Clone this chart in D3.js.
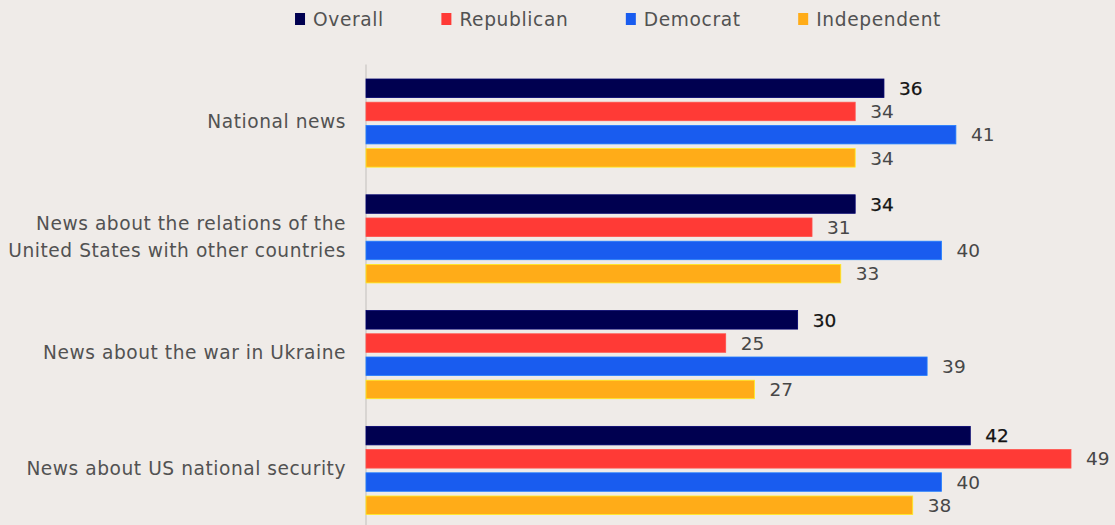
<!DOCTYPE html>
<html>
<head>
<meta charset="utf-8">
<script src="https://cdn.jsdelivr.net/npm/d3@7"></script>
<style>
  html, body { margin: 0; padding: 0; background: #efebe8; }
  svg { display: block; }
  text { font-family: "DejaVu Sans", sans-serif; }
</style>
</head>
<body>
<svg id="chart" width="1115" height="525"></svg>
<script>
// Topics (one group of bars each); multi-line labels split on "\n"
const categories = [
  "National news",
  "News about the relations of the\nUnited States with other countries",
  "News about the war in Ukraine",
  "News about US national security"
];

const seriesNames = ["Overall", "Republican", "Democrat", "Independent"];
const seriesColors = ["#000050", "#ff3a36", "#195cef", "#ffac18"];

// Percent per topic, in category order
const overall     = [36, 34, 30, 42];
const republican  = [34, 31, 25, 49];
const democrat    = [41, 40, 39, 40];
const independent = [34, 33, 27, 38];

const seriesValues = [overall, republican, democrat, independent];

const W = 1115, H = 525;
const svg = d3.select("#chart");

svg.append("rect").attr("width", W).attr("height", H).attr("fill", "#efebe8");

const x = d3.scaleLinear().domain([0, 49]).range([366, 1071]);

const y0 = d3.scaleBand()
  .domain(categories)
  .range([79, 514.5])
  .paddingInner(0.239)
  .paddingOuter(0)
  .align(0);

const y1 = d3.scaleBand()
  .domain(seriesNames)
  .range([0, y0.bandwidth()])
  .paddingInner(0.2026)
  .paddingOuter(0);

const color = d3.scaleOrdinal().domain(seriesNames).range(seriesColors);

// Category axis: a plain vertical rule at zero
const axisScale = d3.scaleLinear().domain([0, 1]).range([64, H]);
const axisG = svg.append("g")
  .attr("transform", `translate(${x(0) - 0.5},0)`)
  .call(d3.axisLeft(axisScale).tickValues([]).tickSizeOuter(0));
axisG.select(".domain").attr("stroke", "#c9c6c3").attr("stroke-width", 1.2);

// Rows of data
const rows = categories.map((c, i) => ({
  category: c,
  values: seriesNames.map((s, j) => ({ series: s, value: seriesValues[j][i] }))
}));

const groups = svg.append("g").selectAll("g")
  .data(rows)
  .join("g")
  .attr("transform", d => `translate(0,${y0(d.category)})`);

groups.selectAll("rect")
  .data(d => d.values)
  .join("rect")
  .attr("x", x(0))
  .attr("y", d => y1(d.series))
  .attr("width", d => x(d.value) - x(0))
  .attr("height", y1.bandwidth())
  .attr("fill", d => color(d.series))
  .attr("stroke", d => d3.color(color(d.series)).brighter(0.9))
  .attr("stroke-width", 0.8);

groups.selectAll("text.val")
  .data(d => d.values)
  .join("text")
  .attr("class", "val")
  .attr("x", d => x(d.value) + 15)
  .attr("y", d => y1(d.series) + y1.bandwidth() / 2)
  .attr("dy", "0.36em")
  .attr("font-size", 18.5)
  .attr("fill", d => d.series === "Overall" ? "#141414" : "#474747")
  .attr("stroke", d => d.series === "Overall" ? "#141414" : "none")
  .attr("stroke-width", 0.25)
  .text(d => d.value);

// Category labels, right-aligned against the axis
const lh = 27.5;
svg.append("g").selectAll("text")
  .data(categories)
  .join("text")
  .attr("text-anchor", "end")
  .attr("font-size", 18.6)
  .attr("letter-spacing", 0.55)
  .attr("fill", "#525252")
  .each(function(d) {
    const lines = d.split("\n");
    const cy = y0(d) + y0.bandwidth() / 2 - 2;
    const top = cy - (lines.length - 1) * lh / 2;
    const t = d3.select(this);
    lines.forEach((line, k) => {
      t.append("tspan")
        .attr("x", 346)
        .attr("y", top + k * lh)
        .attr("dy", "0.35em")
        .text(line);
    });
  });

// Legend, laid out left to right and centred above the plot
const legend = svg.append("g");
const items = legend.selectAll("g")
  .data(seriesNames)
  .join("g");

items.append("rect")
  .attr("width", 10)
  .attr("height", 12)
  .attr("y", 13)
  .attr("fill", d => color(d));

items.append("text")
  .attr("x", 18)
  .attr("y", 19)
  .attr("dy", "0.36em")
  .attr("font-size", 18.6)
  .attr("letter-spacing", 0.63)
  .attr("fill", "#525252")
  .text(d => d);

const gap = 57.5;
let cursor = 0;
items.each(function() {
  const g = d3.select(this);
  g.attr("transform", `translate(${cursor},0)`);
  const tw = g.select("text").node().getComputedTextLength();
  cursor += 18 + tw + gap;
});
const legendWidth = cursor - gap;
legend.attr("transform", `translate(${618 - legendWidth / 2},0)`);
</script>
</body>
</html>
